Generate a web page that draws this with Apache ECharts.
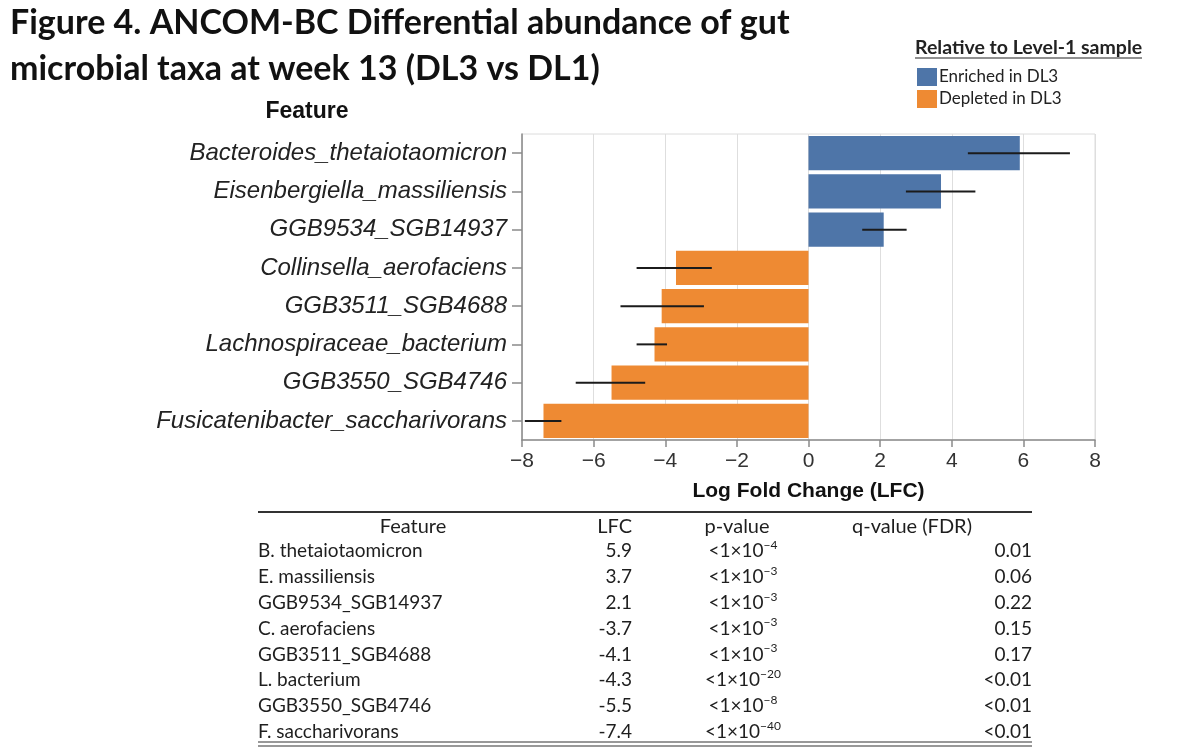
<!DOCTYPE html>
<html>
<head>
<meta charset="utf-8">
<title>ANCOM-BC Differential abundance</title>
<script src="https://cdn.jsdelivr.net/npm/echarts@6/dist/echarts.min.js"></script>
<style>
  html, body { margin: 0; padding: 0; background: #fff; }
  #chart { width: 1200px; height: 754px; }
</style>
</head>
<body>
<div id="chart"></div>
<script>
// features, top to bottom
const features = [
  "Bacteroides_thetaiotaomicron",
  "Eisenbergiella_massiliensis",
  "GGB9534_SGB14937",
  "Collinsella_aerofaciens",
  "GGB3511_SGB4688",
  "Lachnospiraceae_bacterium",
  "GGB3550_SGB4746",
  "Fusicatenibacter_saccharivorans"
];
const lfc = [5.9, 3.7, 2.1, -3.7, -4.1, -4.3, -5.5, -7.4];
// error bar ends
const errLow = [4.45, 2.72, 1.5, -4.8, -5.25, -4.8, -6.5, -7.92];
const errHigh = [7.3, 4.66, 2.74, -2.7, -2.92, -3.95, -4.56, -6.9];

// table below the chart
const tableHeader = ["Feature", "LFC", "p-value", "q-value (FDR)"];
const tableFeatures = [
  "B. thetaiotaomicron", "E. massiliensis", "GGB9534_SGB14937", "C. aerofaciens",
  "GGB3511_SGB4688", "L. bacterium", "GGB3550_SGB4746", "F. saccharivorans"
];
const tableLfc = ["5.9", "3.7", "2.1", "-3.7", "-4.1", "-4.3", "-5.5", "-7.4"];
const pExponent = ["−4", "−3", "−3", "−3", "−3", "−20", "−8", "−40"];
const qValues = ["0.01", "0.06", "0.22", "0.15", "0.17", "<0.01", "<0.01", "<0.01"];

const BLUE = "#4e75a8";
const ORANGE = "#ee8a33";
const calibriLike = "Lato, 'Open Sans', sans-serif";
const arialLike = "'Liberation Sans', Arial, sans-serif";

const chart = echarts.init(document.getElementById("chart"), null, { renderer: "canvas" });

// build table graphics
const tableLeft = 258, tableRight = 1032;
const headerY = 527, rowY0 = 551, rowStep = 25.85;
const tableText = [];
const cell = (text, x, y, align, rich, size) => ({
  type: "text",
  x: x, y: y,
  style: {
    text: text,
    align: align,
    verticalAlign: "middle",
    font: (size || 19) + "px " + calibriLike,
    fill: "#1e1e1e",
    rich: rich
  }
});
const supRich = {
  b: { fontSize: 19, fontFamily: calibriLike, lineHeight: 24, color: "#1e1e1e" },
  s: { fontSize: 12, fontFamily: calibriLike, lineHeight: 11, verticalAlign: "top", color: "#1e1e1e" }
};
tableText.push(cell(tableHeader[0], 413, headerY, "center", null, 20));
tableText.push(cell(tableHeader[1], 632, headerY, "right", null, 20));
tableText.push(cell(tableHeader[2], 737, headerY, "center", null, 20));
tableText.push(cell(tableHeader[3], 912, headerY, "center", null, 20));
tableFeatures.forEach((f, i) => {
  const y = rowY0 + i * rowStep;
  tableText.push(cell(f, tableLeft, y, "left"));
  tableText.push(cell(tableLfc[i], 632, y, "right"));
  tableText.push(cell("{b|<1×10}{s|" + pExponent[i] + "}", 743, y, "center", supRich));
  tableText.push(cell(qValues[i], tableRight, y, "right"));
});
const rule = (y, w) => ({
  type: "line",
  shape: { x1: tableLeft, y1: y, x2: tableRight, y2: y },
  style: { stroke: "#333", lineWidth: w }
});

const option = {
  backgroundColor: "#fff",
  animation: false,
  textStyle: { fontFamily: arialLike },
  legend: {
    orient: "vertical",
    left: 912,
    top: 63,
    itemWidth: 20,
    itemHeight: 18,
    itemGap: 4,
    icon: "rect",
    textStyle: { fontFamily: calibriLike, fontSize: 17, color: "#222", padding: [0, 0, 0, -3] },
    data: ["Enriched in DL3", "Depleted in DL3"]
  },
  grid: {
    left: 522,
    right: 105,
    top: 134,
    bottom: 314,
    show: true,
    borderColor: "#dcdcdc",
    borderWidth: 1
  },
  xAxis: {
    type: "value",
    min: -8,
    max: 8,
    interval: 2,
    name: "Log Fold Change (LFC)",
    nameLocation: "middle",
    nameGap: 41,
    nameTextStyle: { fontFamily: arialLike, fontSize: 21, fontWeight: "bold", color: "#111" },
    axisLine: { show: true, lineStyle: { color: "#8a8a8a", width: 1.5 } },
    axisTick: { show: true, length: 7, lineStyle: { color: "#8a8a8a", width: 1.5 } },
    axisLabel: {
      fontSize: 21,
      color: "#333",
      margin: 11,
      formatter: v => String(v).replace("-", "−")
    },
    splitLine: { show: true, lineStyle: { color: "#dedede", width: 1 } }
  },
  yAxis: {
    type: "category",
    data: features,
    inverse: true,
    axisLine: { show: true, onZero: false, lineStyle: { color: "#8a8a8a", width: 1.5 } },
    axisTick: { show: true, alignWithLabel: true, length: 10, lineStyle: { color: "#8a8a8a", width: 1.5 } },
    axisLabel: { fontSize: 24, fontStyle: "italic", color: "#222", margin: 15 },
    splitLine: { show: false }
  },
  series: [
    {
      name: "Enriched in DL3",
      type: "bar",
      barCategoryGap: "10%",
      barGap: "-100%",
      itemStyle: { color: BLUE },
      data: lfc.map(v => (v > 0 ? v : "-"))
    },
    {
      name: "Depleted in DL3",
      type: "bar",
      barCategoryGap: "10%",
      barGap: "-100%",
      itemStyle: { color: ORANGE },
      data: lfc.map(v => (v < 0 ? v : "-"))
    },
    {
      name: "CI",
      type: "custom",
      z: 10,
      renderItem: (params, api) => {
        const lo = api.coord([api.value(0), api.value(2)]);
        const hi = api.coord([api.value(1), api.value(2)]);
        return {
          type: "line",
          shape: { x1: lo[0], y1: lo[1], x2: hi[0], y2: hi[1] },
          style: { stroke: "#1b1b1b", lineWidth: 2 }
        };
      },
      encode: { x: [0, 1], y: 2 },
      data: errLow.map((l, i) => [l, errHigh[i], i])
    }
  ],
  graphic: [
    {
      type: "text",
      left: 10,
      top: 0,
      style: {
        text: "Figure 4. ANCOM-BC Differential abundance of gut\nmicrobial taxa at week 13 (DL3 vs DL1)",
        font: "bold 34px " + calibriLike,
        lineHeight: 46,
        fill: "#111"
      }
    },
    {
      type: "text",
      x: 915,
      y: 48,
      style: {
        text: "Relative to Level-1 sample",
        font: "bold 19.5px " + calibriLike,
        verticalAlign: "middle",
        fill: "#222"
      }
    },
    {
      type: "line",
      shape: { x1: 915, y1: 58, x2: 1142, y2: 58 },
      style: { stroke: "#222", lineWidth: 1.2 }
    },
    {
      type: "text",
      x: 307,
      y: 112,
      style: {
        text: "Feature",
        font: "bold 23px " + arialLike,
        align: "center",
        verticalAlign: "middle",
        fill: "#111"
      }
    },
    rule(512, 2),
    rule(742, 1.2),
    rule(746, 1.2)
  ].concat(tableText)
};

chart.setOption(option);
</script>
</body>
</html>
